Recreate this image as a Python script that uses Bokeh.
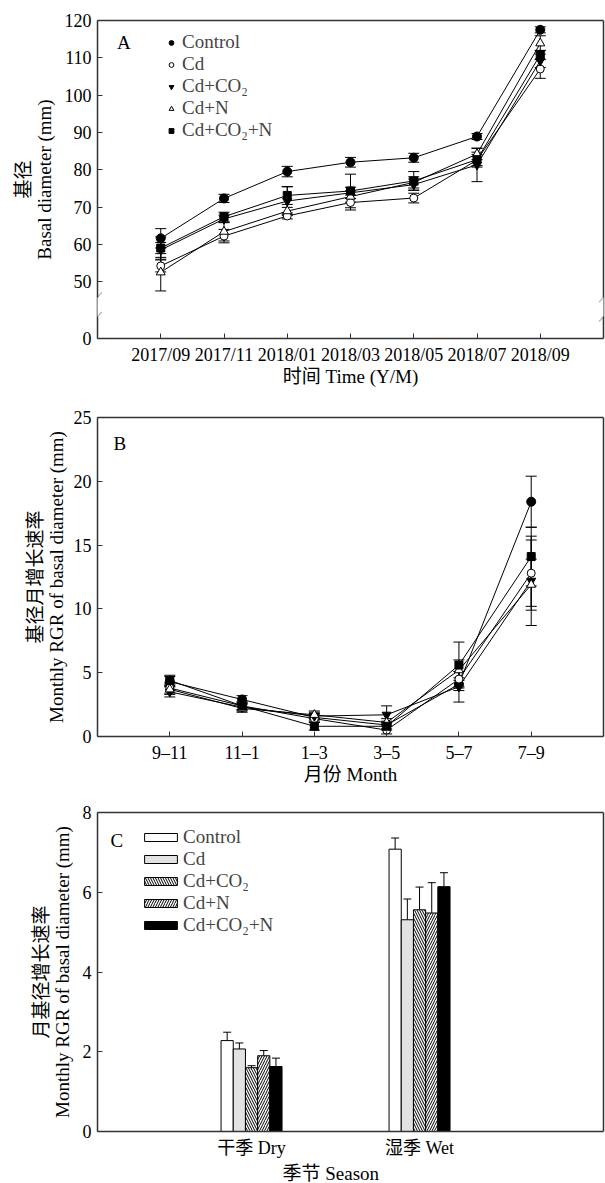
from bokeh.plotting import figure
from bokeh.layouts import column
from bokeh.models import (ColumnDataSource, Whisker, TeeHead, FixedTicker, LinearAxis, Range1d,
                          BoxAnnotation, PolyAnnotation, Legend, LegendItem, Label, Title)
from bokeh.embed import file_html
from bokeh.resources import INLINE

SERIF = "Liberation Serif, Noto Sans CJK SC"

treatments = ["Control", "Cd", "Cd+CO₂", "Cd+N", "Cd+CO₂+N"]

# ---------------- Panel A: basal diameter (mm) ----------------
months_a = ["2017/09", "2017/11", "2018/01", "2018/03", "2018/05", "2018/07", "2018/09"]
a_control = [61.6, 72.3, 79.5, 82.0, 83.2, 88.9, 117.5]
a_cd = [54.2, 62.2, 67.6, 71.2, 72.4, 82.6, 107.0]
a_cdco2 = [58.5, 66.8, 71.6, 73.8, 76.0, 81.3, 109.2]
a_cdn = [52.5, 63.4, 68.9, 72.8, 76.6, 84.2, 113.9]
a_cdco2n = [59.0, 67.4, 73.1, 74.3, 77.0, 82.7, 110.8]
a_control_err = [2.6, 1.1, 1.4, 1.3, 1.2, 0.8, 0.8]
a_cd_err = [1.6, 1.8, 0.8, 2.0, 1.3, 1.5, 2.5]
a_cdco2_err = [2.0, 1.0, 3.8, 1.5, 1.5, 4.5, 1.8]
a_cdn_err = [5.0, 2.5, 1.0, 1.5, 1.5, 1.5, 2.0]
a_cdco2n_err = [3.0, 1.2, 2.4, 4.5, 2.5, 2.0, 1.2]

# ---------------- Panel B: monthly RGR ----------------
periods_b = ["9–11", "11–1", "1–3", "3–5", "5–7", "7–9"]
b_control = [4.3, 2.9, 1.5, 0.9, 4.1, 18.4]
b_cd = [3.8, 2.4, 1.4, 0.5, 4.5, 12.8]
b_cdco2 = [3.5, 2.3, 1.6, 1.7, 3.9, 12.2]
b_cdn = [3.7, 2.2, 1.7, 1.1, 5.2, 11.9]
b_cdco2n = [4.4, 2.4, 0.8, 0.8, 5.6, 14.1]
b_control_err = [0.4, 0.3, 0.3, 0.3, 0.5, 2.0]
b_cd_err = [0.4, 0.3, 0.3, 0.3, 0.6, 2.6]
b_cdco2_err = [0.4, 0.3, 0.3, 0.7, 1.2, 3.5]
b_cdn_err = [0.4, 0.3, 0.3, 0.3, 0.8, 2.0]
b_cdco2n_err = [0.4, 0.3, 0.3, 0.3, 1.8, 2.3]

# ---------------- Panel C: seasonal RGR ----------------
seasons_c = ["干季 Dry", "湿季 Wet"]
c_control = [2.28, 7.08]
c_cd = [2.07, 5.31]
c_cdco2 = [1.60, 5.56]
c_cdn = [1.90, 5.48]
c_cdco2n = [1.63, 6.14]
c_control_err = [0.21, 0.28]
c_cd_err = [0.15, 0.52]
c_cdco2_err = [0.05, 0.57]
c_cdn_err = [0.13, 0.76]
c_cdco2n_err = [0.21, 0.35]

# ---------------- styles ----------------
markers = ["circle", "circle", "inverted_triangle", "triangle", "square"]
marker_fill = ["black", "white", "black", "white", "black"]
marker_size = [9, 8, 9, 9, 8]
bar_fill = ["white", "#e2e2e2", "white", "white", "black"]
bar_hatch = [None, None, "\\", "/", None]

LINE_CLR = "#333333"
TICK_FS = "18px"
LAB_FS = "19px"
W = 605


def frame_axes(p):
    xax = p.below[0]
    yax = p.left[0]
    extra = []
    for loc in ("right", "above"):
        ax = LinearAxis(ticker=FixedTicker(ticks=[]))
        p.add_layout(ax, loc)
        extra.append(ax)
    p.outline_line_color = None
    p.grid.grid_line_color = None
    for ax in [xax, yax] + extra:
        ax.axis_line_color = LINE_CLR
        ax.axis_line_width = 1.5
        ax.major_tick_in = 5
        ax.major_tick_out = 0
        ax.minor_tick_line_color = None
        ax.major_tick_line_color = LINE_CLR
        ax.major_label_text_font = SERIF
        ax.major_label_text_font_size = TICK_FS
        ax.major_label_text_color = "black"
        ax.axis_label_text_font = SERIF
        ax.axis_label_text_font_size = LAB_FS
        ax.axis_label_text_font_style = "normal"
        ax.axis_label_text_color = "black"
    xax.major_label_standoff = 6
    xax.axis_label_standoff = -2
    yax.major_label_standoff = 6
    yax.axis_label_standoff = 7
    return xax, yax


def cjk_title(p, text, standoff=-6):
    p.add_layout(Title(text=text, align="center", text_font=SERIF, text_font_size=LAB_FS,
                       text_font_style="normal", text_color="black", standoff=standoff), "left")


def panel_label(p, x, y, text):
    p.add_layout(Label(x=x, y=y, text=text, text_font=SERIF, text_font_size=LAB_FS,
                       text_baseline="middle", text_align="left", text_color="black"))


def line_series(p, xs, series, errs, head):
    items = []
    for i, (vals, err) in enumerate(zip(series, errs)):
        src = ColumnDataSource(dict(x=xs, y=vals,
                                    lower=[v - e for v, e in zip(vals, err)],
                                    upper=[v + e for v, e in zip(vals, err)]))
        p.line("x", "y", source=src, line_color="black", line_width=1)
        p.add_layout(Whisker(source=src, base="x", lower="lower", upper="upper",
                             line_color="black", line_width=1,
                             upper_head=TeeHead(size=head, line_color="black", line_width=1),
                             lower_head=TeeHead(size=head, line_color="black", line_width=1)))
        r = p.scatter("x", "y", source=src, marker=markers[i], size=marker_size[i],
                      fill_color=marker_fill[i], line_color="black", line_width=1)
        items.append(LegendItem(label=treatments[i], renderers=[r]))
    return items


# ================= Panel A =================
Y0_POS = 34.75      # where the (broken) axis shows 0
BREAK_LO, BREAK_HI = 40.6, 45.8
xa = list(range(len(months_a)))
pa = figure(width=W, height=392, x_range=Range1d(-1, 7), y_range=Range1d(Y0_POS, 120),
            output_backend="svg", toolbar_location=None, title=None,
            min_border_top=20, min_border_left=97, min_border_right=2, min_border_bottom=54)
xax, yax = frame_axes(pa)
xax.ticker = FixedTicker(ticks=xa)
xax.major_label_overrides = {i: m for i, m in enumerate(months_a)}
xax.axis_label = "时间 Time (Y/M)"
yax.ticker = FixedTicker(ticks=[Y0_POS, 50, 60, 70, 80, 90, 100, 110, 120])
yax.major_label_overrides = {Y0_POS: "0"}
yax.axis_label = "Basal diameter (mm)"
cjk_title(pa, "基径")

items_a = line_series(pa, xa, [a_control, a_cd, a_cdco2, a_cdn, a_cdco2n],
                      [a_control_err, a_cd_err, a_cdco2_err, a_cdn_err, a_cdco2n_err], 11)

# axis break
pa.add_layout(BoxAnnotation(left=-1.3, right=7.3, bottom=BREAK_LO, top=BREAK_HI,
                            fill_color="white", fill_alpha=1, line_color=None, level="overlay"))
dx, dy = 0.07, 1.3
for xb in (-1, 7):
    for yb in (BREAK_LO, BREAK_HI):
        pa.add_layout(PolyAnnotation(xs=[xb - dx, xb + dx], ys=[yb - dy, yb + dy],
                                     fill_alpha=0, line_color="black", line_width=1.2,
                                     level="overlay"))

leg_a = Legend(items=items_a, location=(68, 197), glyph_width=12, glyph_height=21,
               label_height=21, spacing=0, padding=0, margin=0, label_standoff=5,
               label_text_font=SERIF, label_text_font_size=LAB_FS,
               background_fill_alpha=0, border_line_color=None)
pa.add_layout(leg_a)
panel_label(pa, -0.69, 114.1, "A")

# ================= Panel B =================
xb_ = list(range(len(periods_b)))
pb = figure(width=W, height=398, x_range=Range1d(-1, 6), y_range=Range1d(0, 25),
            output_backend="svg", toolbar_location=None, title=None,
            min_border_top=25, min_border_left=97, min_border_right=2, min_border_bottom=54)
xbx, ybx = frame_axes(pb)
xbx.ticker = FixedTicker(ticks=xb_)
xbx.major_label_overrides = {i: m for i, m in enumerate(periods_b)}
xbx.axis_label = "月份 Month"
ybx.ticker = FixedTicker(ticks=[0, 5, 10, 15, 20, 25])
ybx.axis_label = "Monthly RGR of basal diameter (mm)"
ybx.axis_label_standoff = 4
cjk_title(pb, "基径月增长速率", -7)
line_series(pb, xb_, [b_control, b_cd, b_cdco2, b_cdn, b_cdco2n],
            [b_control_err, b_cd_err, b_cdco2_err, b_cdn_err, b_cdco2n_err], 11)
panel_label(pb, -0.78, 22.98, "B")

# ================= Panel C =================
xc = [1, 2]
BAR_W = 0.0726
pc = figure(width=W, height=393, x_range=Range1d(0.083, 3.095), y_range=Range1d(0, 8),
            output_backend="svg", toolbar_location=None, title=None,
            min_border_top=22, min_border_left=97, min_border_right=2, min_border_bottom=51)
xcx, ycx = frame_axes(pc)
xcx.ticker = FixedTicker(ticks=xc)
xcx.major_label_overrides = {x: s for x, s in zip(xc, seasons_c)}
xcx.major_tick_line_color = None
pc.add_layout(Title(text="季节 Season", align="left", offset=185, standoff=0,
                    text_font=SERIF, text_font_size=LAB_FS, text_font_style="normal",
                    text_color="black"), "below")
ycx.ticker = FixedTicker(ticks=[0, 2, 4, 6, 8])
ycx.axis_label = "Monthly RGR of basal diameter (mm)"
cjk_title(pc, "月基径增长速率")

items_c = []
for i, (vals, err) in enumerate(zip([c_control, c_cd, c_cdco2, c_cdn, c_cdco2n],
                                    [c_control_err, c_cd_err, c_cdco2_err, c_cdn_err, c_cdco2n_err])):
    xs = [x + (i - 2) * BAR_W for x in xc]
    src = ColumnDataSource(dict(x=xs, top=vals, upper=[v + e for v, e in zip(vals, err)]))
    kw = dict(hatch_pattern=bar_hatch[i], hatch_color="black", hatch_scale=5, hatch_weight=1) \
        if bar_hatch[i] else {}
    r = pc.vbar(x="x", top="top", bottom=0, width=BAR_W, source=src, fill_color=bar_fill[i],
                line_color="black", line_width=1, **kw)
    pc.add_layout(Whisker(source=src, base="x", lower="top", upper="upper",
                          line_color="black", line_width=1, lower_head=None,
                          upper_head=TeeHead(size=8, line_color="black", line_width=1)))
    items_c.append(LegendItem(label=treatments[i], renderers=[r]))

leg_c = Legend(items=items_c, location=(43, 195), glyph_width=41, glyph_height=10,
               label_height=10, spacing=0, padding=0, margin=0, label_standoff=2,
               label_text_font=SERIF, label_text_font_size=LAB_FS,
               background_fill_alpha=0, border_line_color=None)
pc.add_layout(leg_c)
panel_label(pc, 0.16, 7.29, "C")

layout = column(pa, pb, pc, spacing=0)
open("out.html", "w").write(file_html(layout, INLINE))
